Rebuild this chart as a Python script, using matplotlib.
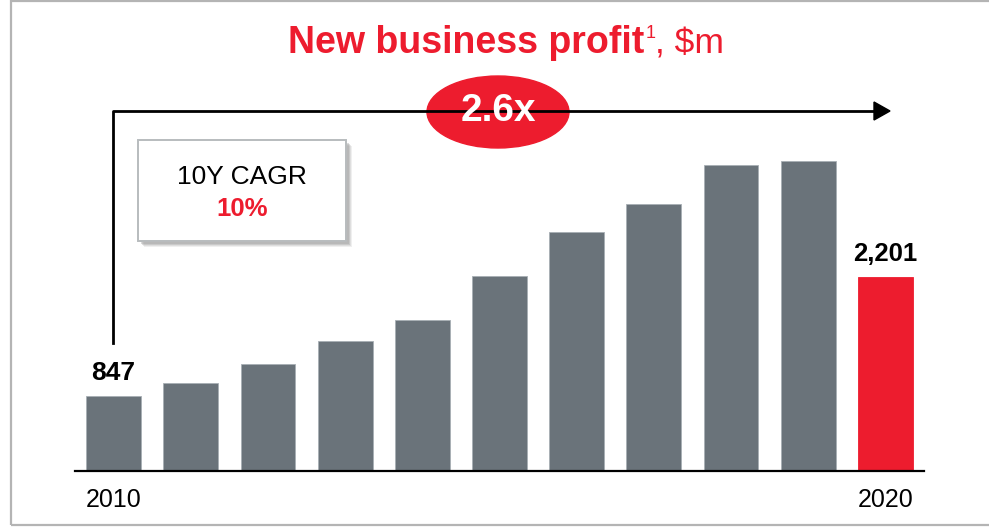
import matplotlib
matplotlib.use("Agg")
import matplotlib.pyplot as plt
from matplotlib.patches import Rectangle, Ellipse, Polygon
from matplotlib.lines import Line2D

# data ($m)
years = ["2010", "2011", "2012", "2013", "2014", "2015",
         "2016", "2017", "2018", "2019", "2020"]
profit = [847, 1000, 1210, 1470, 1710, 2210, 2710, 3030, 3470, 3520, 2201]
shown_labels = {0: "847", 10: "2,201"}
tick_labels = {0: "2010", 10: "2020"}
multiple = "2.6x"
cagr_title = "10Y CAGR"
cagr_value = "10%"

GREY = "#6a737a"
RED = "#ed1c2e"
W, H = 989, 527


def px(x, y):
    """pixel position (from top-left) -> figure fraction"""
    return x / W, 1 - y / H


def main():
    fig = plt.figure(figsize=(W / 100, H / 100), dpi=100)
    plt.rcParams["font.family"] = ["Liberation Sans", "DejaVu Sans"]

    # axes: x from 75px to 924px, baseline at 470.7px, ~11.35 $m per px
    base = 470.7
    ax = fig.add_axes([75 / W, 1 - base / H, (924 - 75) / W, base / H])
    ax.set_xlim(-0.5, 10.5)
    ax.set_ylim(0, base * 11.35)
    colors = [GREY] * (len(years) - 1) + [RED]
    ax.bar(range(len(years)), profit, width=0.71, color=colors,
           edgecolor=["#a7afb4"] * (len(years) - 1) + [RED], linewidth=0.6)
    ax.axis("off")
    ax.axhline(0, color="black", lw=1.6, clip_on=False)

    for i, lab in shown_labels.items():
        ax.annotate(lab, (i, profit[i]), xytext=(0, 16),
                    textcoords="offset pixels", ha="center", va="baseline",
                    fontsize=19 if i == 0 else 18.5, fontweight="bold")
    for i, lab in tick_labels.items():
        ax.annotate(lab, (i, 0), xytext=(0, -36), textcoords="offset pixels",
                    ha="center", va="baseline", fontsize=18)

    # outer frame
    fig.add_artist(Rectangle(px(11, 525), (W + 20) / W, 524 / H,
                             transform=fig.transFigure, fill=False,
                             edgecolor="#b4b4b4", lw=1.6))

    # title
    r = fig.canvas.get_renderer()
    t1 = fig.text(*px(288, 53), "New business profit", color=RED,
                  fontsize=27, fontweight="bold", va="baseline")
    x = 288 + t1.get_window_extent(r).width + 1
    t2 = fig.text(*px(x, 38), "1", color=RED, fontsize=13, va="baseline")
    x += t2.get_window_extent(r).width
    fig.text(*px(x, 53), ", $m", color=RED, fontsize=25.5, va="baseline")

    # growth arrow
    fig.add_artist(Line2D([113 / W, 113 / W, 876 / W],
                          [1 - 343 / H, 1 - 111 / H, 1 - 111 / H],
                          transform=fig.transFigure, color="black", lw=2))
    fig.add_artist(Polygon([px(874, 102), px(874, 120), px(890, 111)],
                           closed=True, transform=fig.transFigure,
                           color="black"))
    fig.add_artist(Ellipse(px(498, 112), 142 / W, 72 / H,
                           transform=fig.transFigure, color=RED))
    fig.text(*px(498, 111), multiple, color="white", fontsize=28,
             fontweight="bold", ha="center", va="center")

    # CAGR box with soft shadow
    for off, a in [(6, 0.15), (5, 0.2), (4, 0.3), (3, 0.35)]:
        fig.add_artist(Rectangle(px(138 + off, 241 + off), 208 / W, 101 / H,
                                 transform=fig.transFigure, color="#9a9a9a",
                                 alpha=a, lw=0))
    fig.add_artist(Rectangle(px(138, 241), 208 / W, 101 / H,
                             transform=fig.transFigure, facecolor="white",
                             edgecolor="#b8bcbe", lw=1.4))
    fig.text(*px(242, 184), cagr_title, fontsize=19, ha="center",
             va="baseline")
    fig.text(*px(242, 216), cagr_value, color=RED, fontsize=18.5,
             fontweight="bold", ha="center", va="baseline")

    fig.savefig("out.png", dpi=100)


if __name__ == "__main__":
    main()
